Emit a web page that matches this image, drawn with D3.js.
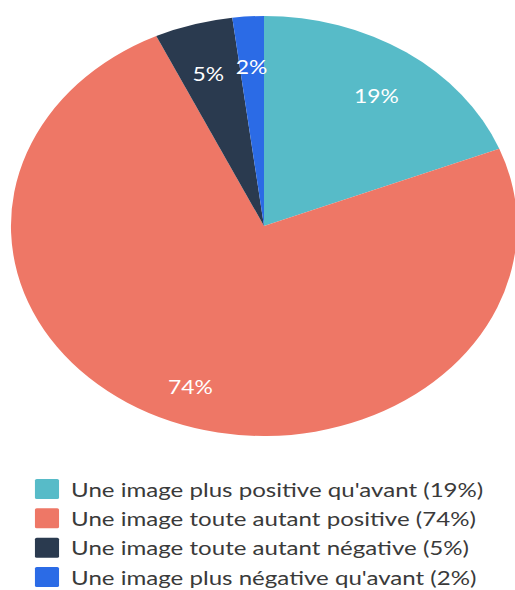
<!DOCTYPE html>
<html><head><meta charset="utf-8">
<script src="https://cdn.jsdelivr.net/npm/d3@7"></script>
<style>html,body{margin:0;padding:0;background:#fff;}svg{display:block;}</style>
</head><body>
<svg id="c" width="515" height="590"></svg>
<script>
const categories = [
  "Une image plus positive qu'avant",
  "Une image toute autant positive",
  "Une image toute autant négative",
  "Une image plus négative qu'avant"
];
const values = [19, 74, 5, 2];
const colors = ["#57bbc8", "#ee7766", "#2a3a4f", "#2b6be6"];

const sx = 1.205;           // horizontal stretch of the reference
const cx = 264, cy = 226, R = 210;

const svg = d3.select("#c");
const g = svg.append("g").attr("transform", `translate(${cx},${cy}) scale(${sx},1)`);

const pie = d3.pie().sort(null).value(d => d);
const arcs = pie(values);
const arc = d3.arc().innerRadius(0).outerRadius(R);
const labelArc = d3.arc().innerRadius(R * 0.79).outerRadius(R * 0.79);

g.selectAll("path").data(arcs).join("path")
  .attr("d", arc)
  .attr("fill", (d, i) => colors[i]);

g.selectAll("text.lbl").data(arcs).join("text")
  .attr("class", "lbl")
  .attr("transform", d => `translate(${labelArc.centroid(d)})`)
  .attr("text-anchor", "middle")
  .attr("dy", "0.74em")
  .attr("fill", "#fff")
  .style("font-family", "Lato, sans-serif")
  .style("font-size", "19px")
  .text(d => d.data + "%");

const lg = svg.append("g").attr("transform", `translate(0,0) scale(${sx},1)`);
const rowY = d3.scaleLinear().domain([0, 3]).range([489, 577]);
const items = lg.selectAll("g.item").data(categories).join("g")
  .attr("class", "item")
  .attr("transform", (d, i) => `translate(29,${rowY(i)})`);
items.append("rect")
  .attr("x", 0).attr("y", -10).attr("width", 20).attr("height", 20)
  .attr("rx", 1.5)
  .attr("fill", (d, i) => colors[i]);
items.append("text")
  .attr("x", 30).attr("y", 0)
  .attr("dominant-baseline", "central")
  .attr("fill", "#3a3a3a")
  .style("font-family", "Lato, sans-serif")
  .style("font-size", "20px")
  .text((d, i) => `${d} (${values[i]}%)`);
</script>
</body></html>
